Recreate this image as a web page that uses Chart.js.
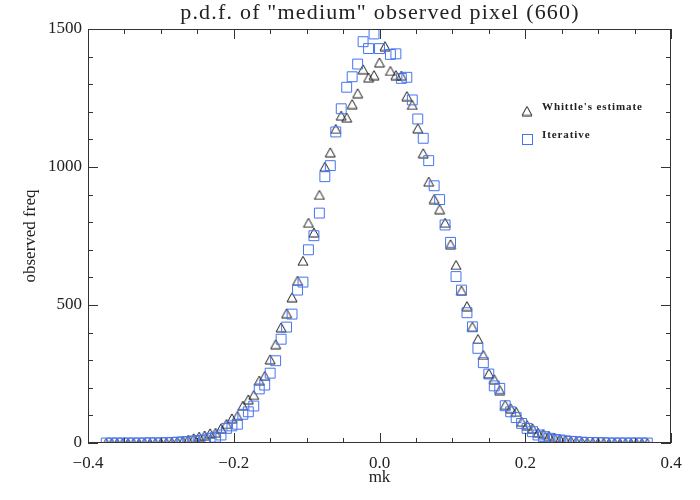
<!DOCTYPE html>
<html><head><meta charset="utf-8">
<script src="https://cdn.jsdelivr.net/npm/chart.js@4.4.0/dist/chart.umd.min.js"></script>
<style>html,body{margin:0;padding:0;background:#fff}</style>
</head><body>
<canvas id="c" width="700" height="500"></canvas>
<script>
// ---- data ----
const mk = [-0.375,-0.3675,-0.36,-0.3525,-0.345,-0.3375,-0.33,-0.3225,-0.315,-0.3075,
 -0.3,-0.2925,-0.285,-0.2775,-0.27,-0.2625,-0.255,-0.2475,-0.24,-0.2325,
 -0.225,-0.2175,-0.21,-0.2025,-0.195,-0.1875,-0.18,-0.1725,-0.165,-0.1575,
 -0.15,-0.1425,-0.135,-0.1275,-0.12,-0.1125,-0.105,-0.0975,-0.09,-0.0825,
 -0.075,-0.0675,-0.06,-0.0525,-0.045,-0.0375,-0.03,-0.0225,-0.015,-0.0075,
 0,0.0075,0.015,0.0225,0.03,0.0375,0.045,0.0525,0.06,0.0675,
 0.075,0.0825,0.09,0.0975,0.105,0.1125,0.12,0.1275,0.135,0.1425,
 0.15,0.1575,0.165,0.1725,0.18,0.1875,0.195,0.2025,0.21,0.2175,
 0.225,0.2325,0.24,0.2475,0.255,0.2625,0.27,0.2775,0.285,0.2925,
 0.3,0.3075,0.315,0.3225,0.33,0.3375,0.345,0.3525,0.36,0.3675];
const whittle = [0,0,0,0,0,0,0,1,0,1,
 1,2,3,5,8,12,17,23,27,35,
 37,53,69,89,98,135,158,174,226,243,
 303,358,419,470,528,588,660,798,763,899,
 1001,1053,1138,1186,1179,1228,1267,1354,1324,1333,
 1379,1438,1348,1333,1331,1257,1225,1140,1050,947,
 884,847,798,720,645,552,496,421,377,319,
 252,231,192,138,126,113,77,65,53,37,
 33,26,20,15,11,8,6,4,3,2,
 1,1,0,1,0,0,0,0,0,0];
const iterative = [0,0,0,0,0,0,0,0,1,0,
 1,1,2,3,4,5,7,9,11,17,
 21,29,53,62,68,104,113,134,196,210,
 253,298,376,420,467,554,583,700,751,833,
 965,1005,1127,1211,1289,1327,1373,1454,1429,1482,
 1429,1530,1408,1410,1321,1325,1243,1174,1104,1023,
 932,882,790,727,603,554,472,421,343,291,
 250,207,198,135,113,92,71,53,41,29,
 23,17,13,11,8,6,5,3,2,2,
 1,1,0,0,0,0,0,0,0,0];
const seriesNames = ["Whittle's estimate", "Iterative"];
const xTickValues = [-0.4,-0.2,0,0.2,0.4];
const xMinorTicks = [-0.35,-0.3,-0.25,-0.15,-0.1,-0.05,0.05,0.1,0.15,0.25,0.3,0.35];
const yTickValues = [0,500,1000,1500];
const yMinorTicks = [100,200,300,400,600,700,800,900,1100,1200,1300,1400];
const titleText = 'p.d.f. of "medium" observed pixel (660)';

// ---- styles ----
const TRI_COLOR = '#1a1a1a';
const SQ_COLOR = 'rgb(70,115,240)';
const AXIS_COLOR = '#333';
const SERIF = '"Liberation Serif", "Times New Roman", serif';

function makeTriangle(w, h, color) {
  const c = document.createElement('canvas');
  c.width = w + 2; c.height = h + 2;
  const g = c.getContext('2d');
  g.strokeStyle = color; g.lineWidth = 1;
  g.beginPath();
  g.moveTo(1, h + 1); g.lineTo(w / 2 + 1, 1); g.lineTo(w + 1, h + 1); g.closePath();
  g.stroke();
  return c;
}
const triImg = makeTriangle(10, 9, TRI_COLOR);

const framePlugin = {
  id: 'frameTicks',
  afterDatasetsDraw(chart) {
    const {ctx, chartArea: a, scales: {x, y}} = chart;
    ctx.save();
    ctx.strokeStyle = AXIS_COLOR; ctx.lineWidth = 1;
    ctx.strokeRect(a.left + 0.5, a.top + 0.5, a.right - a.left - 1, a.bottom - a.top - 1);
    ctx.beginPath();
    const xt = (v, len) => {
      const p = Math.round(x.getPixelForValue(v)) + 0.5;
      ctx.moveTo(p, a.bottom); ctx.lineTo(p, a.bottom - len);
      ctx.moveTo(p, a.top); ctx.lineTo(p, a.top + len);
    };
    const yt = (v, len) => {
      const p = Math.round(y.getPixelForValue(v)) + 0.5;
      ctx.moveTo(a.left, p); ctx.lineTo(a.left + len, p);
      ctx.moveTo(a.right, p); ctx.lineTo(a.right - len, p);
    };
    xTickValues.forEach(v => xt(v, 10));
    xMinorTicks.forEach(v => xt(v, 5));
    yTickValues.forEach(v => yt(v, 10));
    yMinorTicks.forEach(v => yt(v, 5));
    ctx.stroke();
    ctx.restore();
  },
  afterDraw(chart) {
    const {ctx} = chart;
    ctx.save();
    // title
    ctx.fillStyle = '#222';
    ctx.font = '22px ' + SERIF;
    try { ctx.letterSpacing = '1.2px'; } catch (e) {}
    ctx.textAlign = 'center'; ctx.textBaseline = 'middle';
    ctx.fillText(titleText, 380, 13);
    // legend
    ctx.font = 'bold 11px ' + SERIF;
    try { ctx.letterSpacing = '0.9px'; } catch (e) {}
    ctx.textAlign = 'left';
    ctx.drawImage(triImg, 527 - triImg.width / 2, 111 - triImg.height / 2);
    ctx.fillText(seriesNames[0], 542, 107);
    ctx.strokeStyle = SQ_COLOR; ctx.lineWidth = 1;
    ctx.strokeRect(522.5, 134.5, 10, 10);
    ctx.fillText(seriesNames[1], 542, 135);
    ctx.restore();
  }
};

const fmtX = v => { const s = Math.abs(v) < 1e-9 ? '0.0' : v.toFixed(1); return s.replace('-', '\u2212'); };

new Chart(document.getElementById('c'), {
  type: 'scatter',
  data: {
    datasets: [
      {
        label: seriesNames[1],
        data: mk.map((v, i) => ({x: v, y: iterative[i]})),
        pointStyle: 'rect', pointRadius: 7, borderColor: SQ_COLOR, borderWidth: 1,
        backgroundColor: 'rgba(0,0,0,0)', clip: 0, order: 0
      },
      {
        label: seriesNames[0],
        data: mk.map((v, i) => ({x: v, y: whittle[i]})),
        pointStyle: triImg, pointRadius: 6, borderColor: TRI_COLOR, borderWidth: 1,
        backgroundColor: 'rgba(0,0,0,0)', clip: 0, order: 1
      }
    ]
  },
  options: {
    responsive: false, animation: false, devicePixelRatio: 1,
    layout: {padding: {top: 29, right: 29, left: 0, bottom: 0}},
    plugins: {legend: {display: false}, title: {display: false}, tooltip: {enabled: false}},
    scales: {
      x: {
        type: 'linear', min: -0.4, max: 0.4,
        grid: {display: false, drawTicks: false}, border: {display: false},
        afterFit: s => { s.height = 57; },
        afterBuildTicks: s => { s.ticks = xTickValues.map(v => ({value: v})); },
        ticks: {padding: 10, color: '#222', font: {family: SERIF, size: 17}, callback: v => fmtX(v), maxRotation: 0, autoSkip: false},
        title: {display: true, text: 'mk', color: '#222', font: {family: SERIF, size: 17}, padding: {top: 0, bottom: 12}}
      },
      y: {
        type: 'linear', min: 0, max: 1500,
        grid: {display: false, drawTicks: false}, border: {display: false},
        afterFit: s => { s.width = 88; },
        afterBuildTicks: s => { s.ticks = yTickValues.map(v => ({value: v})); },
        ticks: {padding: 6, color: '#222', font: {family: SERIF, size: 17}, callback: v => String(v), autoSkip: false},
        title: {display: true, text: 'observed freq', color: '#222', font: {family: SERIF, size: 17}, padding: {top: 20, bottom: 0}}
      }
    }
  },
  plugins: [framePlugin]
});
</script>
</body></html>
